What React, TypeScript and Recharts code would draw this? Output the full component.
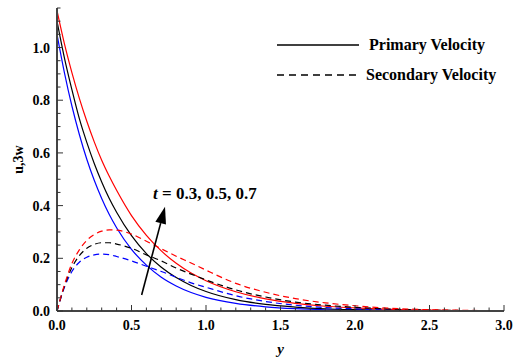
import { LineChart, Line, XAxis, YAxis, ReferenceLine } from 'recharts';

// y (distance from plate)
const yPos = [0, 0.05, 0.1, 0.15, 0.2, 0.25, 0.3, 0.35, 0.4, 0.5, 0.6, 0.7, 0.8, 0.9, 1.0, 1.2, 1.4, 1.6, 1.8, 2.0, 2.25, 2.5, 2.75, 3.0];

// primary velocity u for t = 0.3, 0.5, 0.7
const uT03 = [1.05, 0.904, 0.778, 0.67, 0.576, 0.496, 0.427, 0.367, 0.316, 0.234, 0.174, 0.128, 0.095, 0.07, 0.052, 0.029, 0.016, 0.0087, 0.0047, 0.0026, 0.0012, 0.0006, 0.0003, 0.0001];
const uT05 = [1.1, 0.96, 0.84, 0.73, 0.64, 0.56, 0.49, 0.428, 0.375, 0.286, 0.218, 0.166, 0.127, 0.097, 0.074, 0.043, 0.025, 0.015, 0.0085, 0.005, 0.0025, 0.0013, 0.0007, 0.0003];
const uT07 = [1.14, 1.014, 0.905, 0.807, 0.72, 0.642, 0.572, 0.512, 0.458, 0.362, 0.287, 0.228, 0.181, 0.144, 0.115, 0.073, 0.046, 0.029, 0.018, 0.012, 0.006, 0.003, 0.0015, 0.001];

// secondary velocity 3w for t = 0.3, 0.5, 0.7
const wT03 = [0, 0.09, 0.15, 0.185, 0.204, 0.213, 0.216, 0.214, 0.207, 0.19, 0.17, 0.15, 0.128, 0.107, 0.09, 0.058, 0.036, 0.022, 0.013, 0.008, 0.0035, 0.0017, 0.0008, 0.0004];
const wT05 = [0, 0.095, 0.165, 0.21, 0.238, 0.253, 0.259, 0.259, 0.254, 0.238, 0.213, 0.19, 0.163, 0.14, 0.118, 0.08, 0.053, 0.034, 0.022, 0.014, 0.007, 0.0035, 0.0017, 0.0008];
const wT07 = [0, 0.1, 0.18, 0.232, 0.268, 0.29, 0.303, 0.308, 0.307, 0.292, 0.265, 0.236, 0.208, 0.182, 0.155, 0.105, 0.071, 0.047, 0.031, 0.02, 0.01, 0.005, 0.0025, 0.001];

const xMajor = [0, 0.5, 1.0, 1.5, 2.0, 2.5, 3.0];
const yMajor = [0, 0.2, 0.4, 0.6, 0.8, 1.0];
const xTicks = Array.from({ length: 31 }, (_, i) => i / 10);
const yTicks = Array.from({ length: 24 }, (_, i) => i / 20);

const data = yPos.map((y, i) => ({
  y,
  uT03: uT03[i], uT05: uT05[i], uT07: uT07[i],
  wT03: wT03[i], wT05: wT05[i], wT07: wT07[i],
}));

const FONT = '"Liberation Serif", "Times New Roman", serif';
const isMajor = (list: number[], v: number) => list.some(m => Math.abs(m - v) < 1e-6);

const BottomTick = ({ x, y, payload }: any) => {
  const major = isMajor(xMajor, payload.value);
  const base = y - 12;
  return (
    <g>
      <line x1={x} x2={x} y1={base} y2={base - (major ? 6 : 3.5)} stroke="#333" strokeWidth={1} />
      {major && (
        <text x={x} y={y + 7} textAnchor="middle" fontFamily={FONT} fontWeight="bold" fontSize={14} fill="#000">
          {payload.value.toFixed(1)}
        </text>
      )}
    </g>
  );
};

const LeftTick = ({ x, y, payload }: any) => {
  const major = isMajor(yMajor, payload.value);
  const base = x + 7;
  return (
    <g>
      <line x1={base} x2={base + (major ? 6 : 3.5)} y1={y} y2={y} stroke="#333" strokeWidth={1} />
      {major && (
        <text x={x} y={y + 5} textAnchor="end" fontFamily={FONT} fontWeight="bold" fontSize={14} fill="#000">
          {payload.value.toFixed(1)}
        </text>
      )}
    </g>
  );
};

const TopTick = ({ x, y, payload }: any) => {
  const major = isMajor(xMajor, payload.value);
  return <line x1={x} x2={x} y1={y} y2={y + (major ? 5 : 3)} stroke="#333" strokeWidth={1} />;
};

const RightTick = ({ x, y, payload }: any) => {
  const major = isMajor(yMajor, payload.value);
  return <line x1={x} x2={x - (major ? 5 : 3)} y1={y} y2={y} stroke="#333" strokeWidth={1} />;
};

const Arrow = (props: any) => {
  const { x1, y1, x2, y2 } = props;
  const dx = x2 - x1, dy = y2 - y1;
  const len = Math.sqrt(dx * dx + dy * dy);
  const ux = dx / len, uy = dy / len;
  const head = 17, half = 5.5;
  const bx = x2 - ux * head, by = y2 - uy * head;
  return (
    <g>
      <line x1={x1} y1={y1} x2={bx} y2={by} stroke="#000" strokeWidth={1.6} />
      <polygon
        points={`${x2},${y2} ${bx - uy * half},${by + ux * half} ${bx + uy * half},${by - ux * half}`}
        fill="#000"
      />
      <text x={x2 - 12} y={y2 - 8} fontFamily={FONT} fontWeight="bold" fontSize={17} fill="#000">
        <tspan fontStyle="italic">t</tspan> = 0.3, 0.5, 0.7
      </text>
    </g>
  );
};

export default function App() {
  return (
    <div style={{ position: 'absolute', left: 0, top: 0, width: 519, height: 360, background: '#fff' }}>
      <LineChart width={519} height={360} data={data} margin={{ top: 8, right: 15, left: 0, bottom: 0 }}>
        <XAxis
          dataKey="y"
          type="number"
          domain={[0, 3]}
          ticks={xTicks}
          interval={0}
          height={49}
          tickSize={0}
          tickMargin={12}
          tickLine={false}
          tick={<BottomTick />}
          axisLine={{ stroke: '#444', strokeWidth: 2 }}
          label={({ viewBox }: any) => (
            <text x={viewBox.x + viewBox.width / 2} y={354} textAnchor="middle" fontFamily={FONT} fontWeight="bold" fontStyle="italic" fontSize={15}>
              y
            </text>
          )}
        />
        <XAxis
          xAxisId="top"
          orientation="top"
          dataKey="y"
          type="number"
          domain={[0, 3]}
          ticks={xTicks}
          interval={0}
          height={0}
          tickSize={0}
          tickMargin={0}
          tickLine={false}
          tick={<TopTick />}
          axisLine={false}
        />
        <YAxis
          type="number"
          domain={[0, 1.15]}
          ticks={yTicks}
          interval={0}
          width={57}
          tickSize={0}
          tickMargin={7}
          tickLine={false}
          tick={<LeftTick />}
          axisLine={{ stroke: '#444', strokeWidth: 2 }}
          label={({ viewBox }: any) => (
            <text
              transform={`translate(23, ${viewBox.y + viewBox.height / 2}) rotate(-90)`}
              textAnchor="middle"
              fontFamily={FONT}
              fontWeight="bold"
              fontSize={14}
            >
              u,3w
            </text>
          )}
        />
        <YAxis
          yAxisId="right"
          orientation="right"
          type="number"
          domain={[0, 1.15]}
          ticks={yTicks}
          interval={0}
          width={0}
          tickSize={0}
          tickMargin={0}
          tickLine={false}
          tick={<RightTick />}
          axisLine={{ stroke: '#333', strokeWidth: 1 }}
        />
        <Line type="monotone" dataKey="uT03" stroke="#0000ff" strokeWidth={1.2} dot={false} isAnimationActive={false} />
        <Line type="monotone" dataKey="uT05" stroke="#000000" strokeWidth={1.2} dot={false} isAnimationActive={false} />
        <Line type="monotone" dataKey="uT07" stroke="#ff0000" strokeWidth={1.2} dot={false} isAnimationActive={false} />
        <Line type="monotone" dataKey="wT03" stroke="#0000ff" strokeWidth={1.2} strokeDasharray="6 4" dot={false} isAnimationActive={false} />
        <Line type="monotone" dataKey="wT05" stroke="#000000" strokeWidth={1.2} strokeDasharray="6 4" dot={false} isAnimationActive={false} />
        <Line type="monotone" dataKey="wT07" stroke="#ff0000" strokeWidth={1.2} strokeDasharray="6 4" dot={false} isAnimationActive={false} />
        <ReferenceLine
          segment={[{ x: 0.568, y: 0.061 }, { x: 0.725, y: 0.396 }]}
          shape={<Arrow />}
        />
      </LineChart>
      <div style={{ position: 'absolute', left: 277, top: 30, fontFamily: FONT, fontWeight: 'bold', fontSize: 16, lineHeight: '30px' }}>
        <div style={{ display: 'flex', alignItems: 'center' }}>
          <svg width={82} height={10} style={{ marginRight: 10 }}>
            <line x1={0} x2={82} y1={5} y2={5} stroke="#000" strokeWidth={1.3} />
          </svg>
          <span>Primary Velocity</span>
        </div>
        <div style={{ display: 'flex', alignItems: 'center' }}>
          <svg width={82} height={10} style={{ marginRight: 7 }}>
            <line x1={0} x2={82} y1={5} y2={5} stroke="#000" strokeWidth={1.3} strokeDasharray="7 5" />
          </svg>
          <span>Secondary Velocity</span>
        </div>
      </div>
    </div>
  );
}
